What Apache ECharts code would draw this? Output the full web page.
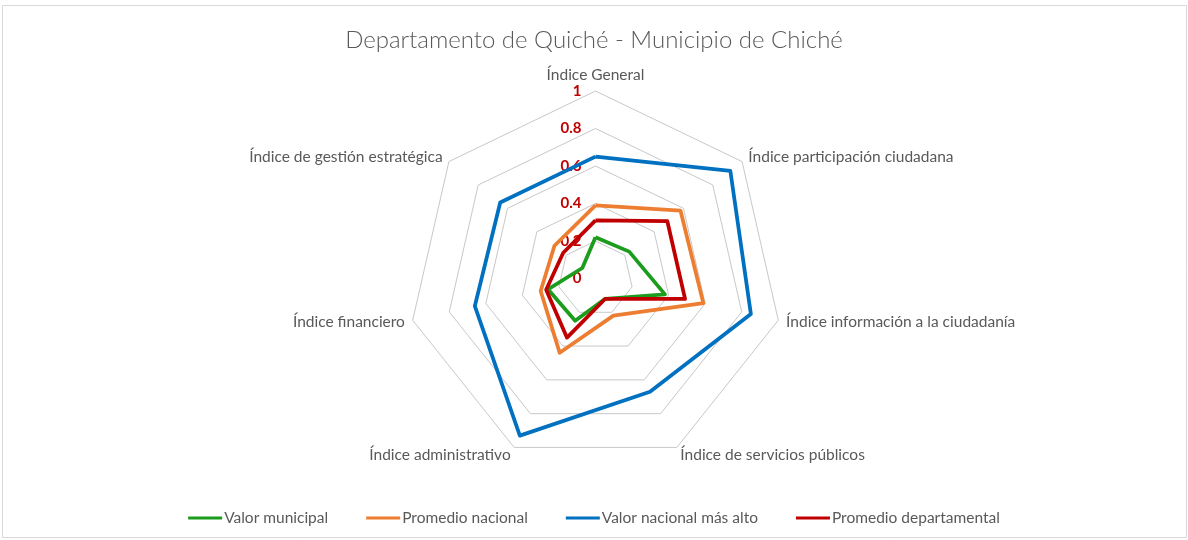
<!DOCTYPE html>
<html>
<head>
<meta charset="utf-8">
<script src="https://cdn.jsdelivr.net/npm/echarts@6/dist/echarts.min.js"></script>
<style>
  html, body { margin: 0; padding: 0; background: #fff; }
  #chart { width: 1188px; height: 540px; }
</style>
</head>
<body>
<div id="chart"></div>
<script>
// Axes listed clockwise starting at the top
const categories = [
  'Índice General',
  'Índice participación ciudadana',
  'Índice información a la ciudadanía',
  'Índice de servicios públicos',
  'Índice administrativo',
  'Índice financiero',
  'Índice de gestión estratégica'
];
const seriesNames = ['Valor municipal', 'Promedio nacional', 'Valor nacional más alto', 'Promedio departamental'];
const valorMunicipal        = [0.22, 0.23, 0.38, 0.12, 0.25, 0.26, 0.09];
const promedioNacional      = [0.39, 0.58, 0.59, 0.22, 0.44, 0.30, 0.28];
const valorNacionalMasAlto  = [0.65, 0.92, 0.85, 0.67, 0.93, 0.66, 0.65];
const promedioDepartamental = [0.31, 0.49, 0.49, 0.12, 0.35, 0.27, 0.22];
const tickLabels = ['0', '0.2', '0.4', '0.6', '0.8', '1'];

const colors = ['#1c9c1c', '#ED7D31', '#0070C0', '#C00000'];
const FONT = 'Lato, "Open Sans", sans-serif';

// ECharts places radar indicators counter-clockwise; reverse all but the first
const order = [0].concat(categories.map((_, i) => i).slice(1).reverse());
const reorder = arr => order.map(i => arr[i]);

const indicator = reorder(categories).map((name, k) => ({
  name: name,
  min: 0,
  max: 1,
  axisLabel: k === 0 ? { show: true } : { show: false }
}));

const allValues = [valorMunicipal, promedioNacional, valorNacionalMasAlto, promedioDepartamental];

const chart = echarts.init(document.getElementById('chart'), null, { renderer: 'canvas' });
chart.setOption({
  backgroundColor: '#ffffff',
  animation: false,
  color: colors,
  graphic: [{
    type: 'rect',
    shape: { x: 2.5, y: 5.5, width: 1184, height: 532 },
    style: { fill: 'none', stroke: '#d9d9d9', lineWidth: 1 },
    silent: true,
    z: -10
  }],
  title: {
    text: 'Departamento de Quiché - Municipio de Chiché',
    left: 'center',
    top: 23,
    textStyle: { fontFamily: FONT, fontSize: 24, fontWeight: 300, color: '#595959' }
  },
  legend: {
    data: seriesNames,
    left: 'center',
    top: 505,
    itemWidth: 34,
    itemHeight: 3,
    itemGap: 38,
    icon: 'rect',
    textStyle: { fontFamily: FONT, fontSize: 15.5, color: '#595959', padding: [0, 0, 0, -3] }
  },
  radar: {
    center: [595.5, 278.5],
    radius: 187.5,
    startAngle: 90,
    shape: 'polygon',
    splitNumber: 5,
    indicator: indicator,
    axisName: { fontFamily: FONT, fontSize: 15.5, color: '#595959' },
    nameGap: 8,
    axisLine: { show: false },
    axisTick: { show: false },
    axisLabel: {
      show: false,
      color: '#C00000',
      fontWeight: 'bold',
      fontFamily: FONT,
      fontSize: 15,
      margin: 14,
      formatter: v => tickLabels[Math.round(v * 5)]
    },
    splitLine: { lineStyle: { color: '#c8c8c8', width: 1 } },
    splitArea: { show: false }
  },
  series: [{
    type: 'radar',
    symbol: 'none',
    data: seriesNames.map((name, i) => ({
      name: name,
      value: reorder(allValues[i]),
      lineStyle: { color: colors[i], width: 3.75 },
      itemStyle: { color: colors[i] }
    }))
  }]
});
</script>
</body>
</html>
